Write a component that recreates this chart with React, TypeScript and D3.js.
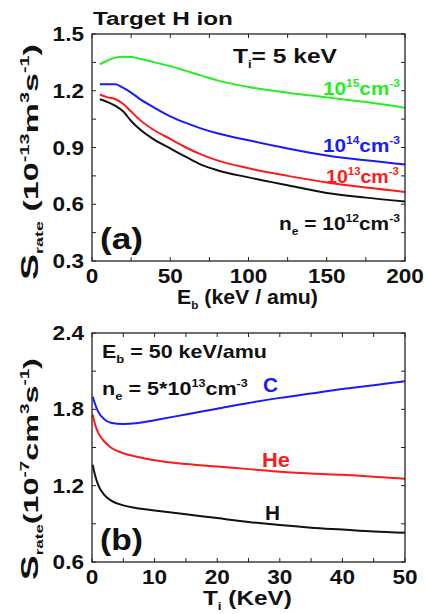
import { useRef, useEffect } from 'react';
import * as d3 from 'd3';

// panel (a): beam energy vs rate, for four densities
const ebValues = [5, 10, 15, 20, 25, 30, 40, 50, 60, 70, 80, 100, 125, 150, 175, 200];
const ne15 = [1.34, 1.36, 1.375, 1.38, 1.378, 1.37, 1.35, 1.33, 1.305, 1.28, 1.255, 1.22, 1.19, 1.165, 1.14, 1.11];
const ne14 = [1.235, 1.235, 1.235, 1.215, 1.19, 1.16, 1.11, 1.065, 1.03, 1.0, 0.975, 0.938, 0.895, 0.858, 0.832, 0.81];
const ne13 = [1.18, 1.165, 1.155, 1.13, 1.09, 1.05, 0.99, 0.945, 0.9, 0.862, 0.832, 0.79, 0.75, 0.715, 0.688, 0.665];
const ne12 = [1.155, 1.14, 1.12, 1.09, 1.04, 1.0, 0.94, 0.895, 0.85, 0.808, 0.78, 0.742, 0.7, 0.66, 0.635, 0.614];
const yTicksA = [0.3, 0.6, 0.9, 1.2, 1.5];
const xTicksA = [0, 50, 100, 150, 200];

// panel (b): ion temperature vs rate, for three target ions
const tiValues = [0.1, 0.5, 1, 2, 3, 5, 7, 10, 15, 20, 25, 30, 35, 40, 45, 50];
const ionC = [1.9, 1.84, 1.78, 1.72, 1.695, 1.685, 1.69, 1.715, 1.76, 1.805, 1.85, 1.89, 1.925, 1.96, 1.99, 2.02];
const ionHe = [1.76, 1.68, 1.615, 1.545, 1.5, 1.455, 1.43, 1.4, 1.37, 1.35, 1.33, 1.31, 1.295, 1.285, 1.27, 1.255];
const ionH = [1.365, 1.28, 1.205, 1.125, 1.085, 1.045, 1.025, 1.005, 0.975, 0.945, 0.915, 0.89, 0.87, 0.855, 0.84, 0.83];
const yTicksB = [0.6, 1.2, 1.8, 2.4];
const xTicksB = [0, 10, 20, 30, 40, 50];

const FONT = '"Liberation Sans", Arial, sans-serif';
const GREEN = '#22ee22';
const BLUE = '#1a1aff';
const RED = '#ff1a1a';
const INK = '#111';

type Part = { t: string; s?: 'sup' | 'sub'; size?: number };

// draws bold text made of parts; if width is given the text is stretched
// horizontally so it spans that width (the original figure's font is wide)
function richText(parent, x, y, parts: Part[], size, color = INK, anchor = 'start', width?: number) {
  const g = parent.append('g').attr('transform', `translate(${x},${y})`);
  const t = g
    .append('text')
    .attr('font-family', FONT)
    .attr('font-weight', 'bold')
    .attr('font-size', size)
    .attr('fill', color)
    .attr('text-anchor', anchor);
  let shift = 0;
  parts.forEach((p) => {
    let target = 0;
    if (p.s === 'sup') target = -size * 0.42;
    if (p.s === 'sub') target = size * 0.25;
    const sp = t.append('tspan').text(p.t).attr('dy', target - shift);
    shift = target;
    sp.attr('font-size', p.size || (p.s ? size * 0.58 : size));
  });
  if (width) {
    const w = (t.node() as SVGTextElement).getBBox().width;
    if (w > 0) t.attr('transform', `scale(${width / w},1)`);
  }
  return g;
}

function panel(svg, opts) {
  const { top, bottom, left, right, xDomain, yDomain, xTicks, yTicks, xStep, yStep, series } = opts;
  const x = d3.scaleLinear().domain(xDomain).range([left, right]);
  const y = d3.scaleLinear().domain(yDomain).range([bottom, top]);
  const g = svg.append('g');

  const line = d3
    .line<[number, number]>()
    .x((d) => x(d[0]))
    .y((d) => y(d[1]))
    .curve(d3.curveMonotoneX);
  series.forEach((s) => {
    g.append('path')
      .attr('d', line(s.xs.map((v, i) => [v, s.ys[i]])))
      .attr('fill', 'none')
      .attr('stroke', s.color)
      .attr('stroke-width', 2);
  });

  // ticks on all four sides, pointing in
  const tl = 4;
  const xt = d3.range(xDomain[0], xDomain[1] + 1e-9, xStep);
  const yt = d3.range(yDomain[0], yDomain[1] + 1e-9, yStep);
  xt.forEach((v) => {
    g.append('line').attr('x1', x(v)).attr('x2', x(v)).attr('y1', bottom).attr('y2', bottom - tl).attr('stroke', '#222');
    g.append('line').attr('x1', x(v)).attr('x2', x(v)).attr('y1', top).attr('y2', top + tl).attr('stroke', '#222');
  });
  yt.forEach((v) => {
    g.append('line').attr('y1', y(v)).attr('y2', y(v)).attr('x1', left).attr('x2', left + tl).attr('stroke', '#222');
    g.append('line').attr('y1', y(v)).attr('y2', y(v)).attr('x1', right).attr('x2', right - tl).attr('stroke', '#222');
  });

  g.append('rect')
    .attr('x', left)
    .attr('y', top)
    .attr('width', right - left)
    .attr('height', bottom - top)
    .attr('fill', 'none')
    .attr('stroke', '#222')
    .attr('stroke-width', 1.3);

  // tick labels
  xTicks.forEach((v) => {
    const g2 = g.append('g').attr('transform', `translate(${x(v)},${bottom + 22}) scale(1.13,1)`);
    g2.append('text')
      .attr('text-anchor', 'middle')
      .attr('font-family', FONT)
      .attr('font-weight', 'bold')
      .attr('font-size', 20)
      .attr('fill', INK)
      .text(v);
  });
  yTicks.forEach((v) => {
    const g2 = g.append('g').attr('transform', `translate(${left - 8},${y(v) + 7}) scale(1.13,1)`);
    g2.append('text')
      .attr('text-anchor', 'end')
      .attr('font-family', FONT)
      .attr('font-weight', 'bold')
      .attr('font-size', 20)
      .attr('fill', INK)
      .text(d3.format('.1f')(v));
  });
  return { g, x, y };
}

export default function App() {
  const svgRef = useRef(null);

  useEffect(() => {
    const svg = d3.select(svgRef.current);
    svg.selectAll('*').remove();
    svg.append('rect').attr('width', 427).attr('height', 614).attr('fill', '#fff');

    const L = 92;
    const R = 405;

    // ---- panel (a)
    const a = panel(svg, {
      top: 34,
      bottom: 261,
      left: L,
      right: R,
      xDomain: [0, 200],
      yDomain: [0.3, 1.5],
      xTicks: xTicksA,
      yTicks: yTicksA,
      xStep: 25,
      yStep: 0.15,
      series: [
        { xs: ebValues, ys: ne15, color: GREEN },
        { xs: ebValues, ys: ne14, color: BLUE },
        { xs: ebValues, ys: ne13, color: RED },
        { xs: ebValues, ys: ne12, color: INK },
      ],
    });
    richText(svg, 93, 25, [{ t: 'Target H ion' }], 19, INK, 'start', 140);
    richText(a.g, 233, 63, [{ t: 'T' }, { t: 'i', s: 'sub', size: 11 }, { t: '= 5 keV' }], 21, INK, 'start', 104);
    richText(a.g, 323, 95, [{ t: '10' }, { t: '15', s: 'sup' }, { t: 'cm' }, { t: '-3', s: 'sup' }], 19, GREEN, 'start', 77);
    richText(a.g, 323, 152, [{ t: '10' }, { t: '14', s: 'sup' }, { t: 'cm' }, { t: '-3', s: 'sup' }], 19, BLUE, 'start', 77);
    richText(a.g, 326, 183, [{ t: '10' }, { t: '13', s: 'sup' }, { t: 'cm' }, { t: '-3', s: 'sup' }], 19, RED, 'start', 73);
    richText(a.g, 279, 230, [{ t: 'n' }, { t: 'e', s: 'sub', size: 11 }, { t: ' = 10' }, { t: '12', s: 'sup' }, { t: 'cm' }, { t: '-3', s: 'sup' }], 19, INK, 'start', 121);
    richText(a.g, 100, 249, [{ t: '(a)' }], 30, INK, 'start', 43);
    richText(svg, 177, 304, [{ t: 'E' }, { t: 'b', s: 'sub', size: 11 }, { t: ' (keV / amu)' }], 20, INK, 'start', 141);
    const yla = svg.append('g').attr('transform', 'translate(38,162) rotate(-90)');
    richText(yla, 0, 0, [{ t: 'S', size: 24 }, { t: 'rate', s: 'sub', size: 11 }, { t: ' (10' }, { t: '-13', s: 'sup' }, { t: 'm' }, { t: '3', s: 'sup' }, { t: 's' }, { t: '-1', s: 'sup' }, { t: ')' }], 21, INK, 'middle', 236);

    // ---- panel (b)
    const b = panel(svg, {
      top: 333,
      bottom: 562,
      left: L,
      right: R,
      xDomain: [0, 50],
      yDomain: [0.6, 2.4],
      xTicks: xTicksB,
      yTicks: yTicksB,
      xStep: 5,
      yStep: 0.3,
      series: [
        { xs: tiValues, ys: ionC, color: BLUE },
        { xs: tiValues, ys: ionHe, color: RED },
        { xs: tiValues, ys: ionH, color: INK },
      ],
    });
    richText(b.g, 102, 358, [{ t: 'E' }, { t: 'b', s: 'sub', size: 11 }, { t: ' = 50 keV/amu' }], 18, INK, 'start', 165);
    richText(b.g, 102, 395, [{ t: 'n' }, { t: 'e', s: 'sub', size: 11 }, { t: ' = 5*10' }, { t: '13', s: 'sup' }, { t: 'cm' }, { t: '-3', s: 'sup' }], 18, INK, 'start', 146);
    richText(b.g, 263, 392, [{ t: 'C' }], 20, BLUE, 'start', 15);
    richText(b.g, 262, 467, [{ t: 'He' }], 20, RED, 'start', 28);
    richText(b.g, 265, 520, [{ t: 'H' }], 20, INK, 'start', 15);
    richText(b.g, 100, 550, [{ t: '(b)' }], 30, INK, 'start', 43);
    richText(svg, 203, 605, [{ t: 'T' }, { t: 'i', s: 'sub', size: 11 }, { t: ' (KeV)' }], 20, INK, 'start', 89);
    const ylb = svg.append('g').attr('transform', 'translate(38,469) rotate(-90)');
    richText(ylb, 0, 0, [{ t: 'S', size: 24 }, { t: 'rate', s: 'sub', size: 11 }, { t: '(10' }, { t: '-7', s: 'sup' }, { t: 'cm' }, { t: '3', s: 'sup' }, { t: 's' }, { t: '-1', s: 'sup' }, { t: ')' }], 21, INK, 'middle', 222);
  }, []);

  return (
    <svg
      ref={svgRef}
      width={427}
      height={614}
      style={{ position: 'absolute', left: 0, top: 0 }}
    ></svg>
  );
}
